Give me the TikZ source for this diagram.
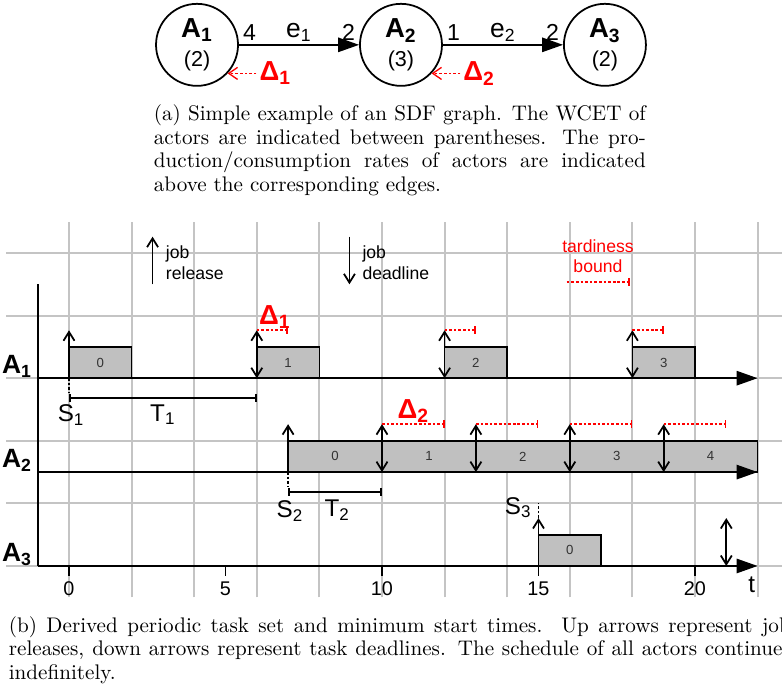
\documentclass[tikz,border=0pt]{standalone}
\usepackage{fontspec}
\newfontfamily\arial{Liberation Sans}
\usetikzlibrary{positioning,arrows.meta}

\definecolor{gridgray}{RGB}{196,196,196}
\definecolor{jobgray}{RGB}{192,192,192}

\begin{document}
\begin{tikzpicture}[x=0.5cm, y=0.5cm, font=\arial, line width=0.8pt,
  every node/.style={inner sep=1pt},
  actor/.style={draw, circle, minimum size=1.31cm, inner sep=0pt, align=center, font=\arial\fontsize{9.8}{13}\selectfont},
  edge/.style={-{Triangle[length=9.5pt,width=6.5pt]}},
  rate/.style={font=\arial\fontsize{10.5}{12}\selectfont},
  elabel/.style={font=\arial\fontsize{12}{13}\selectfont},
  dlabel/.style={text=red, font=\arial\fontsize{12.5}{14}\selectfont\bfseries},
  delta/.style={red, line width=0.6pt, dash pattern=on 1.2pt off 0.9pt, -{Straight Barb[length=4pt,width=5.5pt]}},
  tard/.style={red, dash pattern=on 1.2pt off 0.9pt, -{Bar[width=3.5pt]}},
  rel/.style={-{Straight Barb[length=4pt,width=5pt]}},
  relmiss/.style={{Straight Barb[length=4pt,width=5pt]}-{Straight Barb[length=4pt,width=5pt]}},
  sline/.style={dash pattern=on 1.2pt off 0.9pt},
  period/.style={{Bar[width=3.5pt]}-{Bar[width=3.5pt]}},
  job/.style={draw, fill=jobgray},
  jobno/.style={font=\arial\fontsize{6}{7}\selectfont, text=black!80},
  axis/.style={-{Triangle[length=9.5pt,width=6.5pt]}},
  rowlabel/.style={anchor=base east, font=\arial\fontsize{12}{14}\selectfont\bfseries},
  smalllabel/.style={anchor=base, font=\arial\fontsize{11}{12}\selectfont},
  ticklabel/.style={anchor=base, font=\arial\fontsize{9}{10}\selectfont},
  note/.style={align=left, anchor=west, font=\arial\fontsize{8}{9.2}\selectfont},
  caption/.style={anchor=base west, inner sep=0pt, font=\rmfamily\fontsize{9.6}{10.68}\selectfont}]
\useasboundingbox (-2.2045,-3.9617) rectangle (22.780,18.083);
\clip (-2.2045,-3.9617) rectangle (22.780,18.083);
% --- SDF graph ---
\node[actor] (A1) at (4.09,16.65) {{\fontsize{12.5}{13}\selectfont\bfseries A\textsubscript{1}}\\(2)};
\node[actor, right=1.92cm of A1] (A2) {{\fontsize{12.5}{13}\selectfont\bfseries A\textsubscript{2}}\\(3)};
\node[actor, right=1.92cm of A2] (A3) {{\fontsize{12.5}{13}\selectfont\bfseries A\textsubscript{3}}\\(2)};
\draw[edge] (A1) -- node[elabel, above] (e1) {e\textsubscript{1}}
  node[rate, pos=0, anchor=south west, inner sep=1.5pt] (p1) {4}
  node[rate, pos=1, anchor=south east, inner sep=1.5pt] (c1) {2} (A2);
\draw[edge] (A2) -- node[elabel, above] (e2) {e\textsubscript{2}}
  node[rate, pos=0, anchor=south west, inner sep=1.5pt] (p2) {1}
  node[rate, pos=1, anchor=south east, inner sep=1.5pt] (c2) {2} (A3);
\node[dlabel, right=0.46cm of A1.-43] (D1) {Δ\textsubscript{1}};
\node[dlabel, right=0.46cm of A2.-43] (D2) {Δ\textsubscript{2}};
\draw[delta] (D1) -- (A1.-43);
\draw[delta] (D2) -- (A2.-43);
\node[caption] (capa) at (2.684,14.22) {\parbox[t]{223.6pt}{%
  \makebox[\linewidth][s]{(a) Simple example of an SDF graph. The WCET of}\\
  \makebox[\linewidth][s]{actors are indicated between parentheses. The pro-}\\
  \makebox[\linewidth][s]{duction/consumption rates of actors are indicated}\\
  above the corresponding edges.}};
% --- schedule ---
\draw[gridgray, line width=0.9pt] (-2,-1) grid (23,11);
\node[note] (rlab) at (3.0,9.69) {job\\release};
\draw[rel] (2.67,9) -- (2.67,10.52);
\node[note] (dlab) at (9.28,9.69) {job\\deadline};
\draw[rel] (8.96,10.52) -- (8.96,9);
\node[align=center, text=red, font=\arial\fontsize{8}{9.2}\selectfont] (tlab) at (16.9,9.89) {tardiness\\bound};
\draw[tard] (15.9,9.08) -- (17.93,9.08);
% A1
\foreach \x/\n in {0/0,6/1,12/2,18/3} {
  \draw[job] (\x,6) rectangle ++(2,1);
  \node[jobno] (j1-\n) at (\x+1,6.5) {\n};
}
\draw[rel] (0,6) -- (0,7.53);
\foreach \x in {6,12,18} {
  \draw[relmiss] (\x,6) -- (\x,7.53);
  \draw[tard] (\x,7.53) -- (\x+1,7.53);
}
\node[dlabel] (d1) at (6.58,7.95) {Δ\textsubscript{1}};
\draw[sline] (0,6) -- (0,5.55);
\draw[period] (0,5.36) -- (6,5.36);
\node[smalllabel] (s1) at (0.07,4.6) {S\textsubscript{1}};
\node[smalllabel] (t1) at (3.0,4.62) {T\textsubscript{1}};
% A2
\draw[job] (7,3) rectangle (22,4);
\foreach \n in {0,...,4}
  \node[jobno] (j2-\n) at (8.5+3*\n,3.5) {\n};
\draw[rel] (7,3) -- (7,4.53);
\foreach \x in {10,13,16,19} {
  \draw[relmiss] (\x,3) -- (\x,4.53);
  \draw[tard] (\x,4.53) -- (\x+2,4.53);
}
\node[dlabel] (d2) at (11.0,4.95) {Δ\textsubscript{2}};
\draw[sline] (7,3) -- (7,2.55);
\draw[period] (7,2.37) -- (10,2.37);
\node[smalllabel] (s2) at (7.06,1.55) {S\textsubscript{2}};
\node[smalllabel] (t2) at (8.57,1.58) {T\textsubscript{2}};
% A3
\draw[job] (15,0) rectangle (17,1);
\node[jobno] (j3-0) at (16,0.5) {0};
\draw[rel] (15,0) -- (15,1.53);
\draw[sline] (15,1.53) -- (15,2.0);
\node[smalllabel, anchor=base east] (s3) at (14.88,1.66) {S\textsubscript{3}};
\draw[relmiss] (21,0) -- (21,1.53);
% axes
\draw (-1,9) -- (-1,0);
\foreach \y in {0,3,6}
  \draw[axis] (-1,\y) -- (22,\y);
\node[rowlabel] (r1) at (-1.08,6.15) {A\textsubscript{1}};
\node[rowlabel] (r2) at (-1.08,3.15) {A\textsubscript{2}};
\node[rowlabel] (r3) at (-1.08,0.15) {A\textsubscript{3}};
\foreach \x in {0,5,...,20} {
  \draw (\x,0) -- (\x,-0.33);
  \node[ticklabel] (tick\x) at (\x,-0.95) {\x};
}
\node[smalllabel, font=\arial\fontsize{11}{12}\selectfont] (tt) at (21.81,-0.85) {t};
\node[caption] (capb) at (-1.949,-2.125) {\parbox[t]{355.4pt}{%
  \makebox[\linewidth][s]{(b) Derived periodic task set and minimum start times.\ \ Up arrows represent job}\\
  \makebox[\linewidth][s]{releases, down arrows represent task deadlines. The schedule of all actors continues}\\
  indefinitely.}};
\end{tikzpicture}
\end{document}
